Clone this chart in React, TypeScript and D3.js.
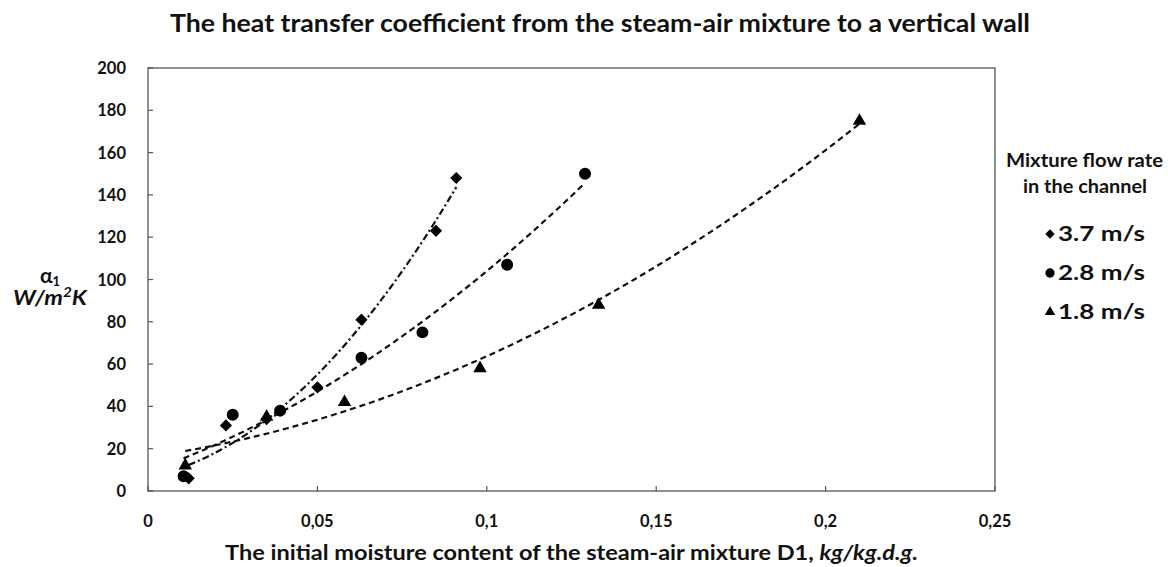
import React from 'react';
import * as d3 from 'd3';

const seriesNames = ['3.7 m/s', '2.8 m/s', '1.8 m/s'];
const diamondX = [0.012, 0.023, 0.035, 0.05, 0.063, 0.085, 0.091];
const diamondY = [6, 31, 34, 49, 81, 123, 148];
const circleX = [0.0105, 0.025, 0.039, 0.063, 0.081, 0.106, 0.129];
const circleY = [7, 36, 38, 63, 75, 107, 150];
const triangleX = [0.011, 0.035, 0.058, 0.098, 0.133, 0.21];
const triangleY = [12, 35, 42, 58, 88, 175];
const xTicks = [0, 0.05, 0.1, 0.15, 0.2, 0.25];
const xTickLabels = ['0', '0,05', '0,1', '0,15', '0,2', '0,25'];
const yTicks = [0, 20, 40, 60, 80, 100, 120, 140, 160, 180, 200];

const W = 1168, H = 567;
const FONT = 'Lato, "Open Sans", sans-serif';

function quadFit(xs: number[], ys: number[]) {
  const n = xs.length;
  let s1 = 0, s2 = 0, s3 = 0, s4 = 0, t0 = 0, t1 = 0, t2 = 0;
  for (let i = 0; i < n; i++) {
    const x = xs[i], y = ys[i];
    s1 += x; s2 += x * x; s3 += x ** 3; s4 += x ** 4;
    t0 += y; t1 += x * y; t2 += x * x * y;
  }
  const M = [[n, s1, s2, t0], [s1, s2, s3, t1], [s2, s3, s4, t2]];
  for (let i = 0; i < 3; i++) {
    for (let k = i + 1; k < 3; k++) {
      const f = M[k][i] / M[i][i];
      for (let j = i; j < 4; j++) M[k][j] -= f * M[i][j];
    }
  }
  const r = [0, 0, 0];
  for (let i = 2; i >= 0; i--) {
    let s = M[i][3];
    for (let j = i + 1; j < 3; j++) s -= M[i][j] * r[j];
    r[i] = s / M[i][i];
  }
  return (x: number) => r[0] + r[1] * x + r[2] * x * x;
}

export default function App() {
  const x = d3.scaleLinear().domain([0, 0.25]).range([148, 995]);
  const y = d3.scaleLinear().domain([0, 200]).range([491, 68]);

  const series = [
    { name: seriesNames[0], xs: diamondX, ys: diamondY, shape: d3.symbolSquare, size: 74, rot: 45, dash: '7,3,2,3' },
    { name: seriesNames[1], xs: circleX, ys: circleY, shape: d3.symbolCircle, size: 113, rot: 0, dash: '6,4' },
    { name: seriesNames[2], xs: triangleX, ys: triangleY, shape: d3.symbolTriangle, size: 78, rot: 0, dash: '6,4' },
  ];

  const line = d3.line<[number, number]>().x(d => x(d[0])).y(d => y(d[1]));

  return (
    <svg width={W} height={H} style={{ position: 'absolute', left: 0, top: 0, background: '#fff' }} fontFamily={FONT}>
      <rect x={0} y={0} width={W} height={H} fill="#fff" />
      <text x={170} y={32} fontSize={25} fontWeight="bold" fill="#111" textLength={860} lengthAdjust="spacingAndGlyphs">
        The heat transfer coefficient from the steam-air mixture to a vertical wall
      </text>
      <rect x={x(0)} y={y(200)} width={x(0.25) - x(0)} height={y(0) - y(200)} fill="none" stroke="#555" strokeWidth={1.3} />
      {yTicks.map(t => (
        <g key={'y' + t}>
          <line x1={x(0)} x2={x(0) + 5} y1={y(t)} y2={y(t)} stroke="#555" strokeWidth={1.2} />
          <text x={126} y={y(t) + 6} textAnchor="end" fontSize={16.5} fontWeight="bold" fill="#111">{t}</text>
        </g>
      ))}
      {xTicks.map((t, i) => (
        <g key={'x' + t}>
          <line x1={x(t)} x2={x(t)} y1={y(0)} y2={y(0) - 5} stroke="#555" strokeWidth={1.2} />
          <text x={x(t)} y={527} textAnchor="middle" fontSize={16.5} fontWeight="bold" fill="#111">{xTickLabels[i]}</text>
        </g>
      ))}
      {series.map(s => {
        const f = quadFit(s.xs, s.ys);
        const x0 = d3.min(s.xs)!, x1 = d3.max(s.xs)!;
        const pts: [number, number][] = d3.range(0, 61).map(i => {
          const xv = x0 + (x1 - x0) * i / 60;
          return [xv, f(xv)];
        });
        return <path key={'l' + s.name} d={line(pts)!} fill="none" stroke="#111" strokeWidth={2.2} strokeDasharray={s.dash} />;
      })}
      {series.map(s => s.xs.map((xv, i) => (
        <path key={s.name + i} d={d3.symbol().type(s.shape).size(s.size)()!}
          transform={`translate(${x(xv)},${y(s.ys[i])}) rotate(${s.rot})`} fill="#000" />
      )))}
      <text x={225} y={560} fontSize={21} fontWeight="bold" fill="#111" textLength={693} lengthAdjust="spacingAndGlyphs">
        The initial moisture content of the steam-air mixture D1, <tspan fontStyle="italic">kg/kg.d.g.</tspan>
      </text>
      <text x={50} y={283} textAnchor="middle" fontSize={21} fontWeight="bold" fill="#111">
        α<tspan fontSize={13} dy={3}>1</tspan>
      </text>
      <text x={13} y={305} fontSize={20} fontWeight="bold" fontStyle="italic" fill="#111" textLength={74} lengthAdjust="spacingAndGlyphs">
        W/m<tspan fontSize={13} dy={-8}>2</tspan><tspan dy={8}>K</tspan>
      </text>
      <text x={1006} y={167} fontSize={18} fontWeight="bold" fill="#111" textLength={157} lengthAdjust="spacingAndGlyphs">Mixture flow rate</text>
      <text x={1023} y={193} fontSize={18} fontWeight="bold" fill="#111" textLength={124} lengthAdjust="spacingAndGlyphs">in the channel</text>
      {series.map((s, i) => (
        <g key={'lg' + i} transform={`translate(0,${234 + i * 39})`}>
          <path d={d3.symbol().type(s.shape).size(s.size * 0.6)()!} transform={`translate(1050,0) rotate(${s.rot})`} fill="#000" />
          <text x={1058} y={6.5} fontSize={20} fontWeight="bold" fill="#111" textLength={87} lengthAdjust="spacingAndGlyphs">{s.name}</text>
        </g>
      ))}
    </svg>
  );
}
